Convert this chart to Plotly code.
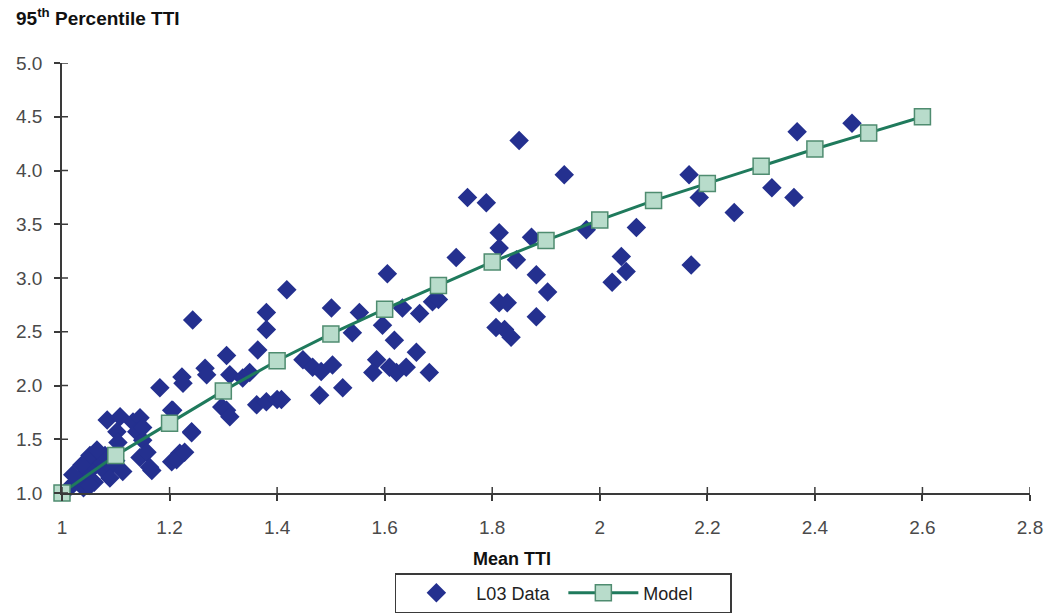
import plotly.graph_objects as go

# Observed link data: mean travel time index vs 95th percentile TTI
l03_mean = [
    1.01, 1.02, 1.03, 1.04, 1.05, 1.06, 1.07, 1.08, 1.04, 1.06, 1.08, 1.09, 1.10,
    1.052, 1.065, 1.037, 1.02, 1.113, 1.089, 1.052,
    1.084, 1.108, 1.132, 1.145, 1.102, 1.139, 1.15, 1.104, 1.206, 1.241, 1.219,
    1.204, 1.167, 1.145, 1.15, 1.158, 1.163, 1.213, 1.228, 1.241, 1.204,
    1.182, 1.223, 1.225, 1.266, 1.269, 1.243, 1.306, 1.312, 1.336, 1.349,
    1.364, 1.38, 1.38, 1.297, 1.306, 1.312, 1.362, 1.38, 1.40, 1.408,
    1.418, 1.448, 1.466, 1.482, 1.503, 1.479, 1.522, 1.501, 1.553, 1.54,
    1.605, 1.596, 1.633, 1.665, 1.689, 1.618, 1.659, 1.585, 1.578, 1.609,
    1.622, 1.64, 1.683, 1.70, 1.733, 1.754, 1.789, 1.813, 1.873, 1.813,
    1.845, 1.85, 1.934, 1.975, 2.068, 1.882, 1.903, 1.882, 1.813, 1.828,
    1.807, 1.823, 1.835, 2.04, 2.049, 2.023, 2.166, 2.185, 2.25, 2.17,
    2.367, 2.32, 2.361, 2.469,
]
l03_p95 = [
    1.03, 1.08, 1.12, 1.15, 1.20, 1.25, 1.30, 1.35, 1.05, 1.10, 1.20, 1.25, 1.30,
    1.35, 1.40, 1.26, 1.17, 1.20, 1.14, 1.07,
    1.68, 1.71, 1.66, 1.70, 1.57, 1.57, 1.49, 1.47, 1.77, 1.57, 1.37,
    1.29, 1.21, 1.33, 1.61, 1.38, 1.24, 1.31, 1.38, 1.56, 1.77,
    1.98, 2.08, 2.02, 2.16, 2.10, 2.61, 2.28, 2.10, 2.07, 2.12,
    2.33, 2.68, 2.52, 1.80, 1.77, 1.71, 1.82, 1.85, 1.87, 1.87,
    2.89, 2.24, 2.17, 2.13, 2.19, 1.91, 1.98, 2.72, 2.68, 2.49,
    3.04, 2.56, 2.72, 2.67, 2.78, 2.42, 2.31, 2.24, 2.12, 2.17,
    2.12, 2.17, 2.12, 2.80, 3.19, 3.75, 3.70, 3.42, 3.38, 3.28,
    3.17, 4.28, 3.96, 3.45, 3.47, 3.03, 2.87, 2.64, 2.77, 2.77,
    2.54, 2.52, 2.45, 3.20, 3.06, 2.96, 3.96, 3.75, 3.61, 3.12,
    4.36, 3.84, 3.75, 4.44,
]

# Fitted model curve
model_mean = [1.0, 1.1, 1.2, 1.3, 1.4, 1.5, 1.6, 1.7, 1.8, 1.9, 2.0, 2.1, 2.2, 2.3, 2.4, 2.5, 2.6]
model_p95 = [1.0, 1.35, 1.65, 1.95, 2.23, 2.48, 2.71, 2.93, 3.15, 3.35, 3.54, 3.72, 3.88, 4.04, 4.20, 4.35, 4.50]

x_ticks = [1, 1.2, 1.4, 1.6, 1.8, 2, 2.2, 2.4, 2.6, 2.8]
y_ticks = [1.0, 1.5, 2.0, 2.5, 3.0, 3.5, 4.0, 4.5, 5.0]

NAVY = "#24308f"
TEAL = "#1f7a5c"
MINT = "#b8dccb"
AXIS = "#3a3a3a"
FONT = "Liberation Sans, Arial, sans-serif"
NARROW = "Liberation Sans Narrow, Arial Narrow, Liberation Sans, sans-serif"
TICK_IN = 6  # inward part of the crossing tick marks, px

fig = go.Figure()
fig.add_trace(go.Scatter(
    x=l03_mean, y=l03_p95, mode="markers", name="L03 Data",
    marker=dict(symbol="diamond", size=15, color=NAVY, line=dict(width=0)),
    cliponaxis=False,
))
fig.add_trace(go.Scatter(
    x=model_mean, y=model_p95, mode="lines+markers", name="Model",
    line=dict(color=TEAL, width=3),
    marker=dict(symbol="square", size=16, color=MINT, line=dict(color="#4f8c70", width=1.5)),
    cliponaxis=False,
))

axis_common = dict(
    showgrid=False, zeroline=False, showline=True, linecolor=AXIS, linewidth=1.5,
    tickcolor=AXIS, tickwidth=1.5, ticklen=6, ticks="outside",
    tickfont=dict(family=FONT, size=19, color="#4a4a4a"),
)
fig.update_layout(
    width=1053, height=613,
    margin=dict(l=62, r=23, t=63, b=120),
    paper_bgcolor="white", plot_bgcolor="white",
    font=dict(family=FONT, size=16, color="#333333"),
    xaxis=dict(range=[1, 2.8], tickvals=x_ticks, ticktext=[f"{v:g}" for v in x_ticks],
               ticklabelstandoff=10, automargin=False, **axis_common),
    yaxis=dict(range=[1, 5], tickvals=y_ticks, ticktext=[f"{v:.1f}" for v in y_ticks],
               ticklabelstandoff=8, automargin=False, **axis_common),
    showlegend=True,
    legend=dict(orientation="h", xref="container", yref="container",
                x=0.535, xanchor="center", y=-0.015, yanchor="bottom",
                bordercolor=AXIS, borderwidth=1.5, bgcolor="white",
                font=dict(family=NARROW, size=18, color="#222222"),
                entrywidth=82, itemwidth=70, traceorder="normal"),
)

# inward halves of the tick marks so they cross the axis lines
for xv in x_ticks:
    fig.add_shape(type="line", xref="x", yref="paper", ysizemode="pixel", yanchor=0,
                  x0=xv, x1=xv, y0=0, y1=TICK_IN, line=dict(color=AXIS, width=1.5))
for yv in y_ticks:
    fig.add_shape(type="line", xref="paper", yref="y", xsizemode="pixel", xanchor=0,
                  x0=0, x1=TICK_IN, y0=yv, y1=yv, line=dict(color=AXIS, width=1.5))

fig.add_annotation(text="<b>95<sup>th</sup> Percentile TTI</b>", xref="paper", yref="paper",
                   x=-0.05, y=1.075, xanchor="left", yanchor="bottom", showarrow=False,
                   font=dict(family=NARROW, size=19, color="#111111"))
fig.add_annotation(text="<b>Mean TTI</b>", xref="paper", yref="paper",
                   x=0.465, y=-0.125, xanchor="center", yanchor="top", showarrow=False,
                   font=dict(family=NARROW, size=18, color="#111111"))

fig.write_html("out.html")
